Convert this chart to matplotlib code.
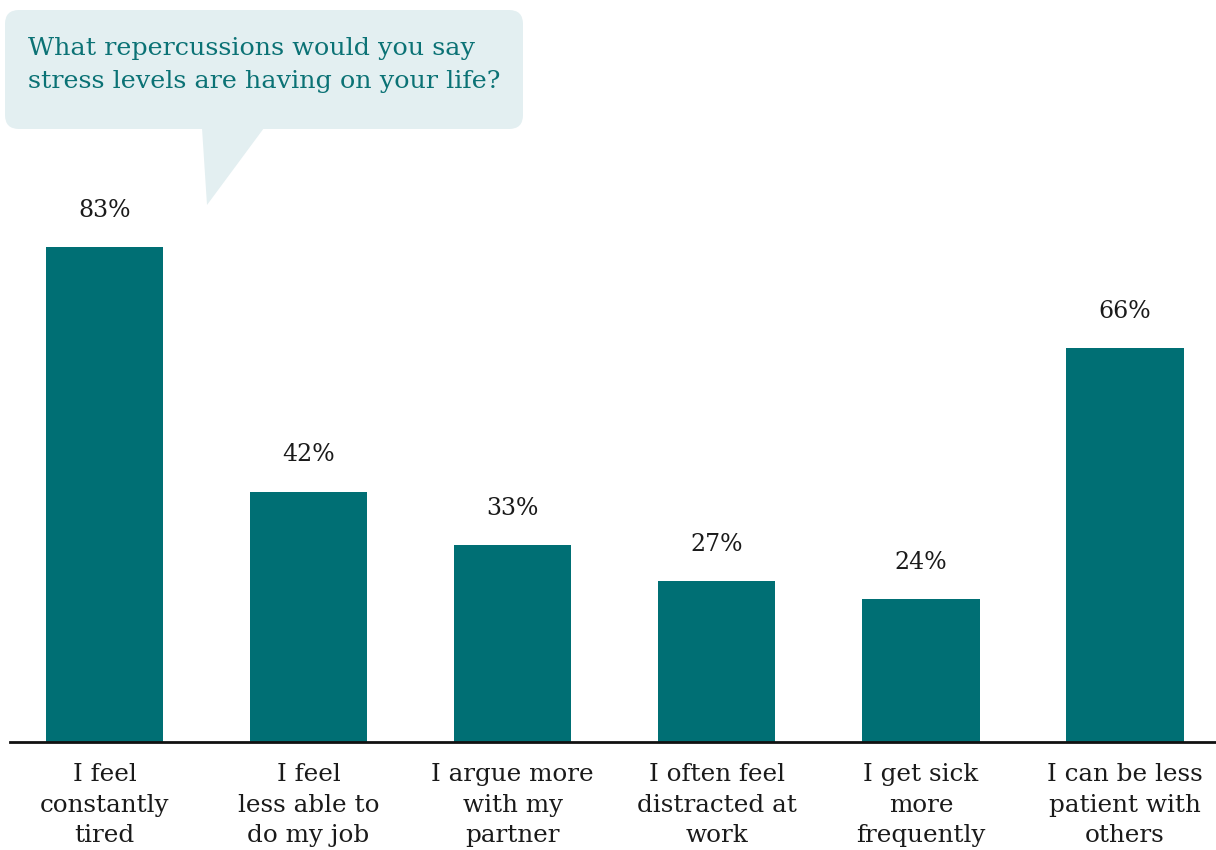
import matplotlib
matplotlib.use('Agg')
import matplotlib.pyplot as plt
from matplotlib.patches import FancyBboxPatch, Polygon

categories = ['I feel\nconstantly\ntired', 'I feel\nless able to\ndo my job',
              'I argue more\nwith my\npartner', 'I often feel\ndistracted at\nwork',
              'I get sick\nmore\nfrequently', 'I can be less\npatient with\nothers']
values = [83, 42, 33, 27, 24, 66]
value_labels = ['83%', '42%', '33%', '27%', '24%', '66%']
question = 'What repercussions would you say\nstress levels are having on your life?'

teal = '#006f74'
bubble = '#e3eff1'
serif = 'DejaVu Serif'

W, H = 1216, 850
fig = plt.figure(figsize=(W / 100, H / 100), dpi=100)
fig.patch.set_facecolor('white')

# axes placed so that the baseline sits at y=742px
ax = fig.add_axes([10 / W, (H - 742) / H, 1 - 10 / W, 596.4 / H])
x = list(range(len(values)))
ax.bar(x, values, width=0.575, color=teal, zorder=2)
ax.set_xlim(-0.463, 5.446)
ax.set_ylim(0, 100)

for xi, v, lab in zip(x, values, value_labels):
    ax.annotate(lab, (xi, v), xytext=(0, 26.5), textcoords='offset points',
                ha='center', va='center', fontsize=17, family=serif,
                color='#1a1a1a')

ax.set_xticks(x)
ax.set_xticklabels(categories, fontsize=17.7, family=serif, color='#1a1a1a',
                   linespacing=1.43)
ax.tick_params(axis='x', length=0, pad=15)
ax.set_yticks([])
for s in ['top', 'right', 'left']:
    ax.spines[s].set_visible(False)
ax.spines['bottom'].set_linewidth(2)
ax.spines['bottom'].set_color('#111111')

# speech bubble with the question
bax = fig.add_axes([0, 0, 1, 1])
bax.set_xlim(0, W)
bax.set_ylim(H, 0)
bax.axis('off')
bax.add_patch(FancyBboxPatch((5, 10), 518, 119, boxstyle='round,pad=0,rounding_size=14',
                             facecolor=bubble, edgecolor='none'))
bax.add_patch(Polygon([(202, 128), (264, 128), (207, 205)], closed=True,
                      facecolor=bubble, edgecolor='none'))
bax.text(28, 65, question, fontsize=18.3, family=serif, color='#0b7275',
         va='center', ha='left', linespacing=1.6)

fig.savefig('out.png', dpi=100)
